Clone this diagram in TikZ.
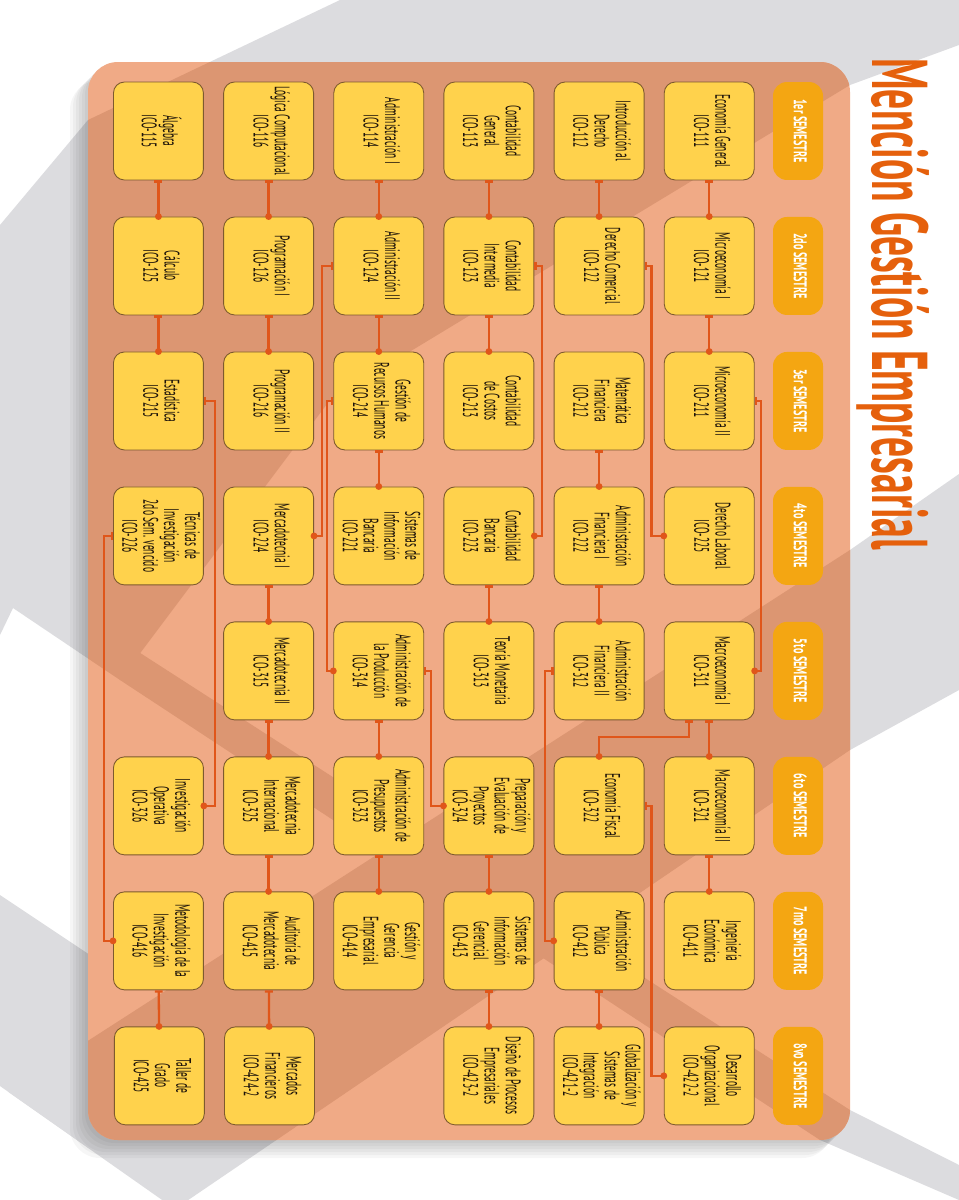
\documentclass[tikz,border=0pt]{standalone}
\usepackage{fontspec}
\usepackage{graphicx}
\usetikzlibrary{positioning,calc,arrows.meta}
\newfontfamily\boxfont[FakeStretch=0.45]{PT Sans}
\newfontfamily\pillfont[FakeStretch=0.55]{PT Sans}
\newfontfamily\titlefont[FakeStretch=0.5]{PT Sans}
\definecolor{panelLight}{HTML}{F0AA86}
\definecolor{panelDark}{HTML}{DC9672}
\definecolor{bandGray}{HTML}{DCDCDF}
\definecolor{boxFill}{HTML}{FFD24C}
\definecolor{boxEdge}{HTML}{7D5A2E}
\definecolor{pillFill}{HTML}{F4A612}
\definecolor{linkRed}{HTML}{E0561A}
\definecolor{titleOrange}{HTML}{E5600C}
\colorlet{boxText}{black!85!brown}
% rotated, centred lines of a box
\newcommand{\rot}[2][]{\rotatebox{-90}{#1\begin{tabular}{@{}c@{}}#2\end{tabular}}}
\newcommand{\four}{\fontsize{12}{11}\selectfont}
% diagonal bands of the backdrop
\newcommand{\bandA}{(340,0) -- (959,0) -- (959,45) -- (850,85) -- (330,400) -- (120,680) -- (13,608) -- (0,635) -- (0,225) -- (88,120) -- cycle}
\newcommand{\bandB}{(0,895) -- (90,955) -- (90,1149) -- (0,1086) -- cycle}
\newcommand{\bandD}{(959,474) -- (850,550) -- (8.5,1092) -- (175,1209) -- (850,750) -- (959,690) -- cycle}
\newcommand{\bandE}{(120,640) -- (850,1110) -- (959,1165) -- (959,1200) -- (820,1140) -- (120,680) -- cycle}
\begin{document}
\begin{tikzpicture}[x=0.02cm, y=-0.02cm, every node/.style={inner sep=1pt},
    course/.style={draw=boxEdge, line width=0.5pt, fill=boxFill, rounded corners=0.22cm, minimum width=1.8cm, minimum height=1.96cm, text=boxText, font=\boxfont\fontsize{12}{12}\selectfont},
    semester/.style={fill=pillFill, rounded corners=0.28cm, minimum width=1cm, minimum height=1.96cm, text=white, font=\pillfont\bfseries\fontsize{10.5}{12}\selectfont},
    link/.style={draw=linkRed, line width=1.3pt, {Bar[width=4.5pt]}-{Circle[length=3.8pt]}, shorten >=-1.9pt}]
    \useasboundingbox (0,0) rectangle (959,1200);

    % backdrop
    \fill[white] (0,0) rectangle (959,1200);
    \fill[bandGray] \bandA;
    \fill[bandGray] \bandB;
    \fill[bandGray] \bandD;
    \fill[bandGray] \bandE;
    \foreach \s in {3,6,...,18}
        \fill[black, opacity=0.035, rounded corners=0.6cm] (88-\s,62+\s) rectangle (850-\s,1140+\s);
    \fill[panelLight, rounded corners=0.6cm] (88,62) rectangle (850,1140);
    \begin{scope}
        \clip[rounded corners=0.6cm] (88,62) rectangle (850,1140);
        \fill[panelDark] \bandA;
        \fill[panelDark] \bandD;
        \fill[panelDark] \bandE;
    \end{scope}

    \node[anchor=base west, rotate=-90, inner sep=0pt, text=titleOrange, font=\titlefont\bfseries\fontsize{45}{45}\selectfont] (title) at (872,58)
        {Mención Gestión Empresarial};

    % semesters
    \node[semester] (sem1) at (798,131) {\rot{1er SEMESTRE}};
    \node[semester, below=0.726cm of sem1] (sem2) {\rot{2do SEMESTRE}};
    \node[semester, below=0.726cm of sem2] (sem3) {\rot{3er SEMESTRE}};
    \node[semester, below=0.726cm of sem3] (sem4) {\rot{4to SEMESTRE}};
    \node[semester, below=0.726cm of sem4] (sem5) {\rot{5to SEMESTRE}};
    \node[semester, below=0.726cm of sem5] (sem6) {\rot{6to SEMESTRE}};
    \node[semester, below=0.726cm of sem6] (sem7) {\rot{7mo SEMESTRE}};
    \node[semester, below=0.726cm of sem7] (sem8) {\rot{8vo SEMESTRE}};

    % 1er semestre
    \node[course, left=0.36cm of sem1] (ico111) {\rot{Economía General\\ICO-111}};
    \node[course, left=0.386cm of ico111] (ico112) {\rot{Introducción al\\Derecho\\ICO-112}};
    \node[course, left=0.386cm of ico112] (ico113) {\rot{Contabilidad\\General\\ICO-113}};
    \node[course, left=0.386cm of ico113] (ico114) {\rot{Administración I\\ICO-114}};
    \node[course, left=0.386cm of ico114] (ico116) {\rot{Lógica Computacional\\ICO-116}};
    \node[course, left=0.386cm of ico116] (ico115) {\rot{Álgebra\\ICO-115}};
    % 2do semestre
    \node[course, left=0.36cm of sem2] (ico121) {\rot{Microeconomía I\\ICO-121}};
    \node[course, left=0.386cm of ico121] (ico122) {\rot{Derecho Comercial\\ICO-122}};
    \node[course, left=0.386cm of ico122] (ico123) {\rot{Contabilidad\\Intermedia\\ICO-123}};
    \node[course, left=0.386cm of ico123] (ico124) {\rot{Administración II\\ICO-124}};
    \node[course, left=0.386cm of ico124] (ico126) {\rot{Programación I\\ICO-126}};
    \node[course, left=0.386cm of ico126] (ico125) {\rot{Cálculo\\ICO-125}};
    % 3er semestre
    \node[course, left=0.36cm of sem3] (ico211) {\rot{Microeconomía II\\ICO-211}};
    \node[course, left=0.386cm of ico211] (ico212) {\rot{Matemática\\Financiera\\ICO-212}};
    \node[course, left=0.386cm of ico212] (ico213) {\rot{Contabilidad\\de Costos\\ICO-213}};
    \node[course, left=0.386cm of ico213] (ico214) {\rot{Gestión de\\Recursos Humanos\\ICO-214}};
    \node[course, left=0.386cm of ico214] (ico216) {\rot{Programación II\\ICO-216}};
    \node[course, left=0.386cm of ico216] (ico215) {\rot{Estadística\\ICO-215}};
    % 4to semestre
    \node[course, left=0.36cm of sem4] (ico225) {\rot{Derecho Laboral\\ICO-225}};
    \node[course, left=0.386cm of ico225] (ico222) {\rot{Administración\\Financiera I\\ICO-222}};
    \node[course, left=0.386cm of ico222] (ico223) {\rot{Contabilidad\\Bancaria\\ICO-223}};
    \node[course, left=0.386cm of ico223] (ico221) {\rot[\four]{Sistemas de\\Información\\Bancaria\\ICO-221}};
    \node[course, left=0.386cm of ico221] (ico224) {\rot{Mercadotecnia I\\ICO-224}};
    \node[course, left=0.386cm of ico224] (ico226) {\rot[\four]{Técnicas de\\Investigación\\2do Sem. vencido\\ICO-226}};
    % 5to semestre
    \node[course, left=0.36cm of sem5] (ico311) {\rot{Macroeconomía I\\ICO-311}};
    \node[course, left=0.386cm of ico311] (ico312) {\rot{Administración\\Financiera II\\ICO-312}};
    \node[course, left=0.386cm of ico312] (ico313) {\rot{Teoría Monetaria\\ICO-313}};
    \node[course, left=0.386cm of ico313] (ico314) {\rot{Administración de\\la Producción\\ICO-314}};
    \node[course, left=0.386cm of ico314] (ico315) {\rot{Mercadotecnia II\\ICO-315}};
    % 6to semestre
    \node[course, left=0.36cm of sem6] (ico321) {\rot{Macroeconomía II\\ICO-321}};
    \node[course, left=0.386cm of ico321] (ico322) {\rot{Economía Fiscal\\ICO-322}};
    \node[course, left=0.386cm of ico322] (ico324) {\rot[\four]{Preparación y\\Evaluación de\\Proyectos\\ICO-324}};
    \node[course, left=0.386cm of ico324] (ico323) {\rot{Administración de\\Presupuestos\\ICO-323}};
    \node[course, left=0.386cm of ico323] (ico325) {\rot{Mercadotecnia\\Internacional\\ICO-325}};
    \node[course, left=0.386cm of ico325] (ico326) {\rot{Investigación\\Operativa\\ICO-326}};
    % 7mo semestre
    \node[course, left=0.36cm of sem7] (ico411) {\rot{Ingeniería\\Económica\\ICO-411}};
    \node[course, left=0.386cm of ico411] (ico412) {\rot{Administración\\Pública\\ICO-412}};
    \node[course, left=0.386cm of ico412] (ico413) {\rot[\four]{Sistemas de\\Información\\Gerencial\\ICO-413}};
    \node[course, left=0.386cm of ico413] (ico414) {\rot[\four]{Gestión y\\Gerencia\\Empresarial\\ICO-414}};
    \node[course, left=0.386cm of ico414] (ico415) {\rot{Auditoría de\\Mercadotecnia\\ICO-415}};
    \node[course, left=0.386cm of ico415] (ico416) {\rot{Metodología de la\\Investigación\\ICO-416}};
    % 8vo semestre
    \node[course, left=0.36cm of sem8] (ico4222) {\rot{Desarrollo\\Organizacional\\ICO-422-2}};
    \node[course, left=0.386cm of ico4222] (ico4212) {\rot[\four]{Globalización y\\Sistemas de\\Integración\\ICO-421-2}};
    \node[course, left=0.386cm of ico4212] (ico4232) {\rot{Diseño de Procesos\\Empresariales\\ICO-423-2}};
    \node[course, left=2.572cm of ico4232] (ico4242) {\rot{Mercados\\Financieros\\ICO-424-2}};
    \node[course, left=0.386cm of ico4242] (ico425) {\rot{Taller de\\Grado\\ICO-425}};

    % prerequisites, straight
    \draw[link] (ico111) -- (ico121);
    \draw[link] (ico112) -- (ico122);
    \draw[link] (ico113) -- (ico123);
    \draw[link] (ico114) -- (ico124);
    \draw[link] (ico116) -- (ico126);
    \draw[link] (ico115) -- (ico125);
    \draw[link] (ico121) -- (ico211);
    \draw[link] (ico123) -- (ico213);
    \draw[link] (ico124) -- (ico214);
    \draw[link] (ico126) -- (ico216);
    \draw[link] (ico125) -- (ico215);
    \draw[link] (ico212) -- (ico222);
    \draw[link] (ico214) -- (ico221);
    \draw[link] (ico222) -- (ico312);
    \draw[link] (ico223) -- (ico313);
    \draw[link] (ico224) -- (ico315);
    \draw[link] (ico311) -- (ico321);
    \draw[link] (ico314) -- (ico323);
    \draw[link] (ico315) -- (ico325);
    \draw[link] (ico321) -- (ico411);
    \draw[link] (ico324) -- (ico413);
    \draw[link] (ico323) -- (ico414);
    \draw[link] (ico325) -- (ico415);
    \draw[link] (ico412) -- (ico4212);
    \draw[link] (ico413) -- (ico4232);
    \draw[link] (ico415) -- (ico4242);
    \draw[link] (ico416) -- (ico425);
    % prerequisites, bent
    \draw[link] (ico122.east) -- ++(7,0) |- (ico225.west);
    \draw[link] (ico123.east) -- ++(8,0) |- (ico223.east);
    \draw[link] (ico124.west) -- ++(-11,0) |- (ico224.east);
    \draw[link] (ico214.west) -- ++(-6,0) |- (ico314.west);
    \draw[link] (ico215.east) -- ++(11,0) |- (ico326.east);
    \draw[link] (ico211.east) -- ++(6,0) |- (ico311.east);
    \draw[link] (ico226.west) -- ++(-9,0) |- (ico416.west);
    \draw[link] (ico314.east) -- ++(7,0) |- (ico324.west);
    \draw[link] (ico312.west) -- ++(-9,0) |- (ico412.west);
    \draw[link] (ico322.east) -- ++(7,0) |- (ico4222.west);
    \draw[link] ($(ico311.south)+(-20,0)$) -- ++(0,17) -| (ico322.north);
\end{tikzpicture}
\end{document}
